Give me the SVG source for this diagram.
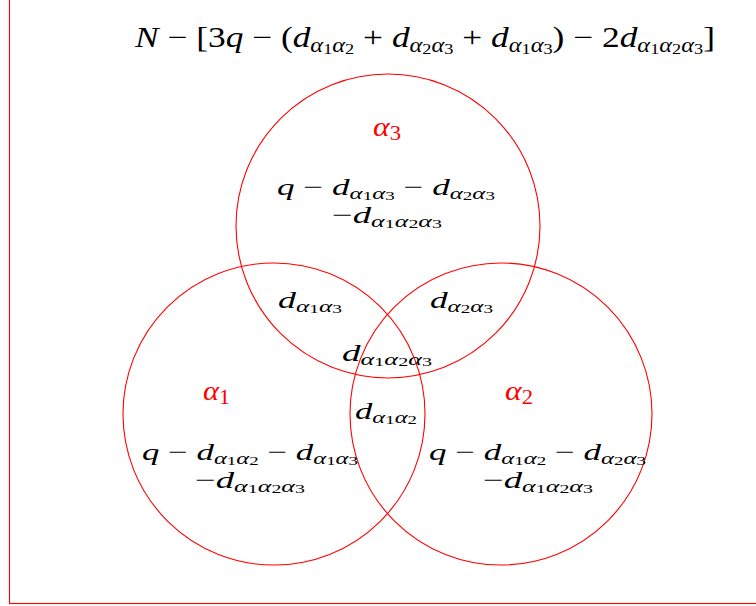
<svg xmlns="http://www.w3.org/2000/svg" width="756" height="606" viewBox="0 0 756 606" font-family="'Liberation Serif','Times New Roman',serif">
<style>
text{font-family:"Liberation Serif","Times New Roman",serif;font-size:24px;fill:#000}
.t{font-size:29px}
.i{font-style:italic}
.s{font-style:italic;font-size:17px}
.ss{font-size:13px}
.t .s{font-size:20px}
.t .ss{font-size:15px}
.lab{fill:#ff0000;font-size:28px}
.lab .s{font-size:20px;font-style:normal}
.c{fill:none;stroke:#ff0000;stroke-width:1.1}
</style>
<rect x="9.5" y="-10" width="760" height="613.5" fill="none" stroke="#ff0000" stroke-width="1.1"/>
<g id="title">
<text class="t" x="135" y="47" textLength="580" lengthAdjust="spacingAndGlyphs"><tspan class="i">N</tspan> − [3<tspan class="i">q</tspan> − (<tspan class="i">d</tspan><tspan class="s" dy="5">α</tspan><tspan class="ss" dy="2">1</tspan><tspan class="s" dy="-2">α</tspan><tspan class="ss" dy="2">2</tspan><tspan dy="-7"> + </tspan><tspan class="i">d</tspan><tspan class="s" dy="5">α</tspan><tspan class="ss" dy="2">2</tspan><tspan class="s" dy="-2">α</tspan><tspan class="ss" dy="2">3</tspan><tspan dy="-7"> + </tspan><tspan class="i">d</tspan><tspan class="s" dy="5">α</tspan><tspan class="ss" dy="2">1</tspan><tspan class="s" dy="-2">α</tspan><tspan class="ss" dy="2">3</tspan><tspan dy="-7">) − 2</tspan><tspan class="i">d</tspan><tspan class="s" dy="5">α</tspan><tspan class="ss" dy="2">1</tspan><tspan class="s" dy="-2">α</tspan><tspan class="ss" dy="2">2</tspan><tspan class="s" dy="-2">α</tspan><tspan class="ss" dy="2">3</tspan><tspan dy="-7">]</tspan></text>
</g>
<g id="circles">
<circle id="circle3" class="c" cx="388" cy="226" r="152"/>
<circle id="circle1" class="c" cx="274" cy="414" r="151"/>
<circle id="circle2" class="c" cx="501" cy="414" r="151"/>
</g>
<g id="set3">
<text class="lab" x="373" y="136" textLength="28" lengthAdjust="spacingAndGlyphs"><tspan class="i">α</tspan><tspan class="s" dy="4">3</tspan></text>
<text x="277" y="195" textLength="218" lengthAdjust="spacingAndGlyphs"><tspan class="i">q</tspan> − <tspan class="i">d</tspan><tspan class="s" dy="4">α</tspan><tspan class="ss" dy="1">1</tspan><tspan class="s" dy="-1">α</tspan><tspan class="ss" dy="1">3</tspan><tspan dy="-5"> − </tspan><tspan class="i">d</tspan><tspan class="s" dy="4">α</tspan><tspan class="ss" dy="1">2</tspan><tspan class="s" dy="-1">α</tspan><tspan class="ss" dy="1">3</tspan></text>
<text x="332" y="223" textLength="110" lengthAdjust="spacingAndGlyphs">−<tspan class="i">d</tspan><tspan class="s" dy="4">α</tspan><tspan class="ss" dy="1">1</tspan><tspan class="s" dy="-1">α</tspan><tspan class="ss" dy="1">2</tspan><tspan class="s" dy="-1">α</tspan><tspan class="ss" dy="1">3</tspan></text>
</g>
<g id="set1">
<text class="lab" x="203" y="400" textLength="27" lengthAdjust="spacingAndGlyphs"><tspan class="i">α</tspan><tspan class="s" dy="4">1</tspan></text>
<text x="142" y="460" textLength="216" lengthAdjust="spacingAndGlyphs"><tspan class="i">q</tspan> − <tspan class="i">d</tspan><tspan class="s" dy="4">α</tspan><tspan class="ss" dy="1">1</tspan><tspan class="s" dy="-1">α</tspan><tspan class="ss" dy="1">2</tspan><tspan dy="-5"> − </tspan><tspan class="i">d</tspan><tspan class="s" dy="4">α</tspan><tspan class="ss" dy="1">1</tspan><tspan class="s" dy="-1">α</tspan><tspan class="ss" dy="1">3</tspan></text>
<text x="195" y="488" textLength="110" lengthAdjust="spacingAndGlyphs">−<tspan class="i">d</tspan><tspan class="s" dy="4">α</tspan><tspan class="ss" dy="1">1</tspan><tspan class="s" dy="-1">α</tspan><tspan class="ss" dy="1">2</tspan><tspan class="s" dy="-1">α</tspan><tspan class="ss" dy="1">3</tspan></text>
</g>
<g id="set2">
<text class="lab" x="505" y="400" textLength="28" lengthAdjust="spacingAndGlyphs"><tspan class="i">α</tspan><tspan class="s" dy="4">2</tspan></text>
<text x="429" y="460" textLength="217" lengthAdjust="spacingAndGlyphs"><tspan class="i">q</tspan> − <tspan class="i">d</tspan><tspan class="s" dy="4">α</tspan><tspan class="ss" dy="1">1</tspan><tspan class="s" dy="-1">α</tspan><tspan class="ss" dy="1">2</tspan><tspan dy="-5"> − </tspan><tspan class="i">d</tspan><tspan class="s" dy="4">α</tspan><tspan class="ss" dy="1">2</tspan><tspan class="s" dy="-1">α</tspan><tspan class="ss" dy="1">3</tspan></text>
<text x="483" y="488" textLength="110" lengthAdjust="spacingAndGlyphs">−<tspan class="i">d</tspan><tspan class="s" dy="4">α</tspan><tspan class="ss" dy="1">1</tspan><tspan class="s" dy="-1">α</tspan><tspan class="ss" dy="1">2</tspan><tspan class="s" dy="-1">α</tspan><tspan class="ss" dy="1">3</tspan></text>
</g>
<g id="intersections">
<text id="d13" x="278" y="308" textLength="64" lengthAdjust="spacingAndGlyphs"><tspan class="i">d</tspan><tspan class="s" dy="4">α</tspan><tspan class="ss" dy="1">1</tspan><tspan class="s" dy="-1">α</tspan><tspan class="ss" dy="1">3</tspan></text>
<text id="d23" x="430" y="308" textLength="63" lengthAdjust="spacingAndGlyphs"><tspan class="i">d</tspan><tspan class="s" dy="4">α</tspan><tspan class="ss" dy="1">2</tspan><tspan class="s" dy="-1">α</tspan><tspan class="ss" dy="1">3</tspan></text>
<text id="d123" x="342" y="361" textLength="90" lengthAdjust="spacingAndGlyphs"><tspan class="i">d</tspan><tspan class="s" dy="4">α</tspan><tspan class="ss" dy="1">1</tspan><tspan class="s" dy="-1">α</tspan><tspan class="ss" dy="1">2</tspan><tspan class="s" dy="-1">α</tspan><tspan class="ss" dy="1">3</tspan></text>
<text id="d12" x="355" y="419" textLength="62" lengthAdjust="spacingAndGlyphs"><tspan class="i">d</tspan><tspan class="s" dy="4">α</tspan><tspan class="ss" dy="1">1</tspan><tspan class="s" dy="-1">α</tspan><tspan class="ss" dy="1">2</tspan></text>
</g>
</svg>
